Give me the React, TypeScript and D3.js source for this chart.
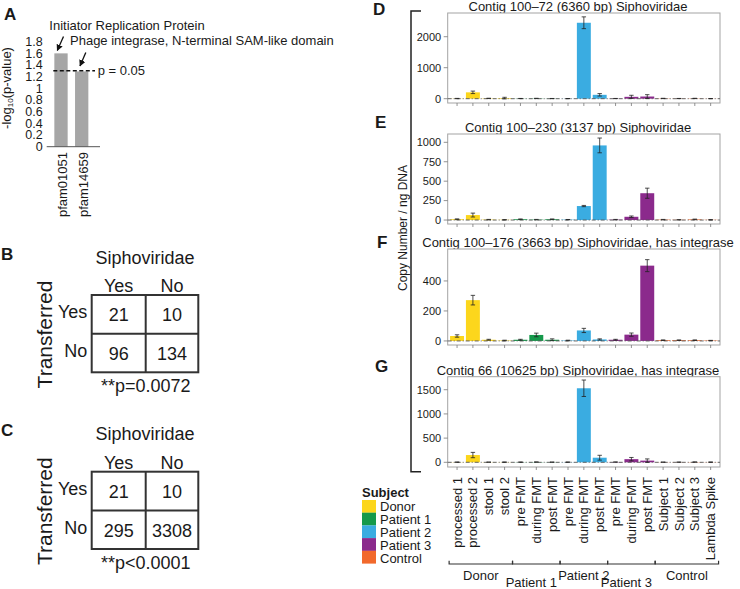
import React from "react";
import * as d3 from "d3";

// ---------- Data ----------
const pfamNames = ["pfam01051", "pfam14659"];
const pfamValues = [1.6, 1.29];
const pfamTicks = [0, 0.2, 0.4, 0.6, 0.8, 1, 1.2, 1.4, 1.6, 1.8];
const pfamAnnotations = ["Initiator Replication Protein", "Phage integrase, N-terminal SAM-like domain"];
const pThreshold = 0.05;

const tableB = [[21, 10], [96, 134]];
const tableBp = "**p=0.0072";
const tableC = [[21, 10], [295, 3308]];
const tableCp = "**p<0.0001";
const tableCols = ["Yes", "No"];
const tableRows = ["Yes", "No"];

const categories = [
  "processed 1", "processed 2", "stool 1", "stool 2",
  "pre FMT", "during FMT", "post FMT",
  "pre FMT", "during FMT", "post FMT",
  "pre FMT", "during FMT", "post FMT",
  "Subject 1", "Subject 2", "Subject 3", "Lambda Spike",
];
const categorySubject = [0, 0, 0, 0, 1, 1, 1, 2, 2, 2, 3, 3, 3, 4, 4, 4, 4];
const subjects = ["Donor", "Patient 1", "Patient 2", "Patient 3", "Control"];
const subjectColors = ["#fcd61c", "#15994b", "#3aace1", "#8b2a8c", "#f2692c"];

const titleD = "Contig 100–72 (6360 bp) Siphoviridae";
const valuesD = [5, 205, 10, 20, 5, 8, 4, 3, 2450, 125, 5, 60, 70, 8, 5, 8, 3];
const errorsD = [5, 40, 5, 25, 3, 5, 3, 2, 190, 40, 3, 50, 60, 5, 3, 5, 2];
const ticksD = [0, 1000, 2000];
const domainD = [-139, 2765];

const titleE = "Contig 100–230 (3137 bp) Siphoviridae";
const valuesE = [10, 64, 5, 3, 10, 5, 10, 5, 180, 960, 5, 42, 345, 5, 3, 8, 3];
const errorsE = [5, 25, 3, 2, 4, 3, 4, 2, 8, 95, 3, 10, 65, 3, 2, 4, 2];
const ticksE = [0, 250, 500, 750, 1000];
const domainE = [-51, 1107];

const titleF = "Contig 100–176 (3663 bp) Siphoviridae, has integrase";
const valuesF = [33, 272, 8, 3, 8, 40, 8, 3, 70, 10, 8, 42, 502, 5, 5, 5, 3];
const errorsF = [8, 32, 3, 2, 3, 12, 6, 2, 14, 4, 3, 11, 40, 2, 2, 2, 1];
const ticksF = [0, 200, 400];
const domainF = [-27, 613];

const titleG = "Contig 66 (10625 bp) Siphoviridae, has integrase";
const valuesG = [3, 150, 3, 3, 3, 5, 3, 3, 1530, 95, 5, 65, 35, 3, 3, 5, 3];
const errorsG = [2, 55, 2, 1, 2, 4, 2, 1, 170, 50, 2, 35, 35, 1, 2, 3, 1];
const ticksG = [0, 500, 1000, 1500];
const domainG = [-97, 1769];

const groups = [
  { name: "Donor", start: 0, end: 3, row: 0 },
  { name: "Patient 1", start: 4, end: 6, row: 1 },
  { name: "Patient 2", start: 7, end: 9, row: 0 },
  { name: "Patient 3", start: 10, end: 12, row: 1 },
  { name: "Control", start: 13, end: 16, row: 0 },
];

const FONT = "'Liberation Sans', Arial, Helvetica, sans-serif";
const TXT = "#1a1a1a";

// ---------- Shared x scale for D–G ----------
const xBar = d3
  .scaleBand<number>()
  .domain(d3.range(categories.length))
  .range([447.7, 720])
  .paddingInner(0.12)
  .paddingOuter(0.15);

function BarPanel(props: {
  letter: string; letterX: number; letterY: number;
  title: string; values: number[]; errors: number[]; ticks: number[];
  domain: number[]; top: number; bottom: number;
}) {
  const { letter, letterX, letterY, title, values, errors, ticks, domain, top, bottom } = props;
  const y = d3.scaleLinear().domain(domain).range([bottom, top]);
  const [x0, x1] = xBar.range();
  const bw = xBar.bandwidth();
  return (
    <g>
      <text x={letterX} y={letterY} fontSize={17} fontWeight="bold" fill={TXT}>{letter}</text>
      <text x={578} y={top - 2} fontSize={13} textAnchor="middle" fill={TXT}>{title}</text>
      <rect x={x0} y={top} width={x1 - x0} height={bottom - top} fill="#fff" stroke="#a3a3a3" strokeWidth={1} />
      {values.map((v, i) => (
        <rect key={"b" + i} x={xBar(i)} y={y(Math.max(v, 0))} width={bw}
          height={Math.abs(y(0) - y(v))} fill={subjectColors[categorySubject[i]]} />
      ))}
      <line x1={x0} x2={x1} y1={y(0)} y2={y(0)} stroke="#555" strokeWidth={0.9} strokeDasharray="4,2,1,2" />
      {values.map((v, i) => {
        const cx = (xBar(i) as number) + bw / 2;
        const lo = y(v - errors[i]);
        const hi = y(v + errors[i]);
        return (
          <g key={"e" + i} stroke="#222" strokeWidth={0.8}>
            <line x1={cx} x2={cx} y1={lo} y2={hi} />
            <line x1={cx - 2.2} x2={cx + 2.2} y1={lo} y2={lo} />
            <line x1={cx - 2.2} x2={cx + 2.2} y1={hi} y2={hi} />
          </g>
        );
      })}
      {ticks.map((t) => (
        <g key={"t" + t}>
          <line x1={x0 - 4} x2={x0} y1={y(t)} y2={y(t)} stroke="#777" strokeWidth={0.8} />
          <text x={x0 - 6.5} y={y(t)} dy="0.35em" fontSize={11} textAnchor="end" fill={TXT}>{t}</text>
        </g>
      ))}
      {categories.map((c, i) => {
        const cx = (xBar(i) as number) + bw / 2;
        return <line key={"x" + i} x1={cx} x2={cx} y1={bottom} y2={bottom + 3} stroke="#777" strokeWidth={0.8} />;
      })}
    </g>
  );
}

function ContTable(props: { letter: string; top: number; values: number[][]; pText: string }) {
  const { letter, top, values, pText } = props;
  const xs = [91.7, 145.7, 198.3];
  const ys = [top, top + 38.8, top + 77.3];
  return (
    <g fill={TXT} fontSize={18}>
      <text x={1} y={top - 35.5} fontSize={17} fontWeight="bold">{letter}</text>
      <text x={(xs[0] + xs[2]) / 2} y={top - 37.7} dy="0.35em" textAnchor="middle">Siphoviridae</text>
      {tableCols.map((c, j) => (
        <text key={c} x={(xs[j] + xs[j + 1]) / 2} y={top - 9.5} dy="0.35em" textAnchor="middle">{c}</text>
      ))}
      {tableRows.map((r, i) => (
        <text key={r} x={87.3} y={(ys[i] + ys[i + 1]) / 2 - 2.5} dy="0.35em" textAnchor="end">{r}</text>
      ))}
      {values.map((row, i) =>
        row.map((v, j) => (
          <text key={i + "-" + j} x={(xs[j] + xs[j + 1]) / 2} y={(ys[i] + ys[i + 1]) / 2 + 0.5} dy="0.35em" textAnchor="middle">{v}</text>
        ))
      )}
      <g fill="none" stroke="#333" strokeWidth={2}>
        <rect x={xs[0]} y={ys[0]} width={xs[2] - xs[0]} height={ys[2] - ys[0]} />
        <line x1={xs[1]} x2={xs[1]} y1={ys[0]} y2={ys[2]} />
        <line x1={xs[0]} x2={xs[2]} y1={ys[1]} y2={ys[1]} />
      </g>
      <text x={xs[1]} y={top + 90.5} dy="0.35em" textAnchor="middle">{pText}</text>
      <text transform={`translate(51.5,${top + 39.5}) rotate(-90)`} textAnchor="middle" fontSize={21}>Transferred</text>
    </g>
  );
}

export default function App() {
  const yA = d3.scaleLinear().domain([0, 1.8]).range([146.7, 41.7]);
  const xA = d3.scaleBand<string>().domain(pfamNames).range([47, 95.7]).paddingInner(0.357).paddingOuter(0.355);
  const thrY = yA(-Math.log10(pThreshold));
  const bwA = xA.bandwidth();

  const step = xBar.step();
  const bw = xBar.bandwidth();
  const center = (i: number) => (xBar(i) as number) + bw / 2;

  return (
    <svg width={740} height={589} style={{ position: "absolute", left: 0, top: 0, fontFamily: FONT }}>
      <defs>
        <marker id="arr" viewBox="0 0 10 10" refX="9" refY="5" markerWidth="5" markerHeight="5" orient="auto">
          <path d="M0,0 L10,5 L0,10 z" fill="#111" />
        </marker>
      </defs>
      <rect width={740} height={589} fill="#fff" />

      {/* Panel A */}
      <text x={4} y={20} fontSize={17} fontWeight="bold" fill={TXT}>A</text>
      {pfamTicks.map((t) => (
        <text key={t} x={42.7} y={yA(t)} dy="0.35em" fontSize={12.5} textAnchor="end" fill={TXT}>
          {String(+t.toFixed(1))}
        </text>
      ))}
      {pfamNames.map((n, i) => (
        <rect key={n} x={xA(n)} y={yA(pfamValues[i])} width={bwA} height={yA(0) - yA(pfamValues[i])} fill="#a6a6a6" />
      ))}
      <line x1={46.7} x2={100} y1={yA(0)} y2={yA(0)} stroke="#555" strokeWidth={1} />
      {pfamNames.map((n) => (
        <text key={n} transform={`translate(${(xA(n) as number) + bwA / 2 + 1.5},152) rotate(-90)`} dy="0.35em"
          fontSize={13} textAnchor="end" fill={TXT}>{n}</text>
      ))}
      <line x1={53.3} x2={95} y1={thrY} y2={thrY} stroke="#111" strokeWidth={1.6} strokeDasharray="4,2.5" />
      <text x={97.7} y={thrY} dy="0.35em" fontSize={13} fill={TXT}>p = {pThreshold}</text>
      <text x={49.3} y={25.5} dy="0.35em" fontSize={13} fill={TXT}>{pfamAnnotations[0]}</text>
      <text x={70} y={40.5} dy="0.35em" fontSize={13} fill={TXT}>{pfamAnnotations[1]}</text>
      <line x1={63.5} y1={36.5} x2={57.3} y2={50.5} stroke="#111" strokeWidth={1.3} markerEnd="url(#arr)" />
      <line x1={85.8} y1={52.5} x2={80} y2={66} stroke="#111" strokeWidth={1.3} markerEnd="url(#arr)" />
      <text transform="translate(10.5,88) rotate(-90)" textAnchor="middle" fontSize={13} fill={TXT}>
        -log<tspan fontSize={8} dy={2}>10</tspan><tspan dy={-2}>(p-value)</tspan>
      </text>

      {/* Panels B, C */}
      <ContTable letter="B" top={295} values={tableB} pText={tableBp} />
      <ContTable letter="C" top={471.7} values={tableC} pText={tableCp} />

      {/* Panels D–G */}
      <BarPanel letter="D" letterX={373} letterY={15} title={titleD} values={valuesD} errors={errorsD}
        ticks={ticksD} domain={domainD} top={13} bottom={103} />
      <BarPanel letter="E" letterX={375} letterY={128.3} title={titleE} values={valuesE} errors={errorsE}
        ticks={ticksE} domain={domainE} top={134} bottom={224} />
      <BarPanel letter="F" letterX={377} letterY={248.3} title={titleF} values={valuesF} errors={errorsF}
        ticks={ticksF} domain={domainF} top={249} bottom={345} />
      <BarPanel letter="G" letterX={375} letterY={371.7} title={titleG} values={valuesG} errors={errorsG}
        ticks={ticksG} domain={domainG} top={376.7} bottom={467} />

      {/* shared y label bracket */}
      <path d="M421,11 H411 V471.7 H421" fill="none" stroke="#222" strokeWidth={1.5} />
      <text transform="translate(406.5,228) rotate(-90)" textAnchor="middle" fontSize={12} fill={TXT}>
        Copy Number / ng DNA
      </text>

      {/* category labels */}
      {categories.map((c, i) => (
        <text key={"cl" + i} transform={`translate(${center(i)},477) rotate(-90)`} dy="0.35em"
          fontSize={13} textAnchor="end" fill={TXT}>{c}</text>
      ))}

      {/* group brackets */}
      {groups.map((g) => {
        const a = center(g.start) - step / 2;
        const b = center(g.end) + step / 2;
        return (
          <g key={g.name}>
            <path d={`M${a},560.7 V564 H${b} V560.7`} fill="none" stroke="#333" strokeWidth={1.2} />
            <text x={(a + b) / 2 - (g.row === 1 ? 5 : 0)} y={g.row === 0 ? 575 : 582.5} dy="0.35em" fontSize={13}
              textAnchor="middle" fill={TXT}>
              {g.name}
            </text>
          </g>
        );
      })}

      {/* legend */}
      <text x={362} y={492.7} dy="0.35em" fontSize={13} fontWeight="bold" fill={TXT}>Subject</text>
      {subjects.map((s, i) => (
        <g key={s}>
          <rect x={362} y={500 + i * 12.7} width={14} height={12.8} fill={subjectColors[i]} />
          <text x={380} y={506.7 + i * 12.9} dy="0.35em" fontSize={13} fill={TXT}>{s}</text>
        </g>
      ))}
    </svg>
  );
}
